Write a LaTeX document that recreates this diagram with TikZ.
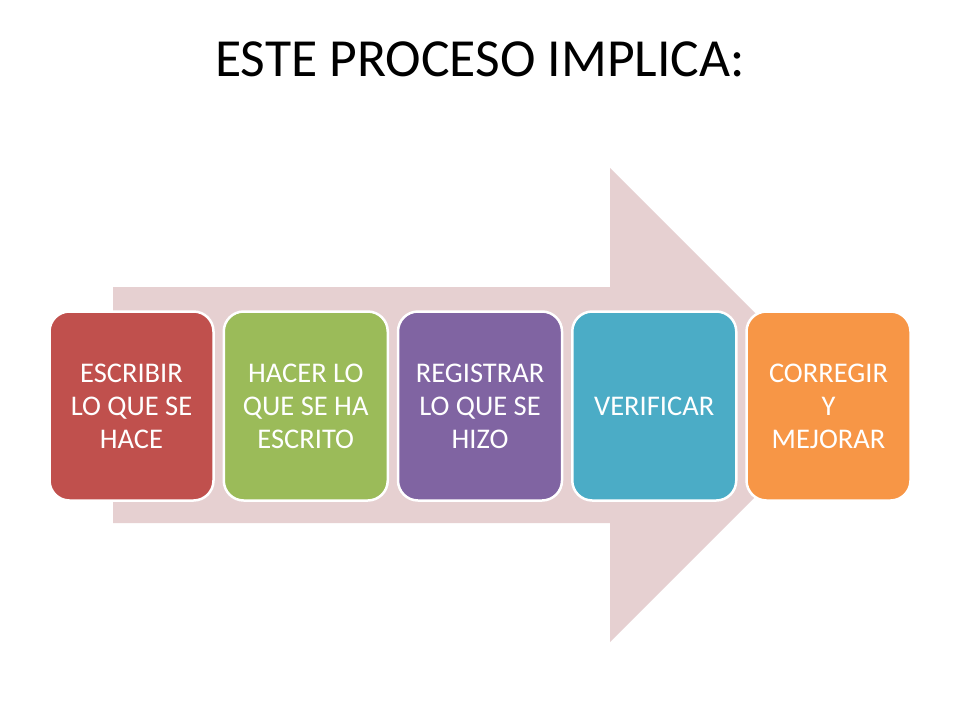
\documentclass[tikz,border=0pt]{standalone}
\usepackage{fontspec}
\setmainfont{Carlito}
\definecolor{arrowpink}{RGB}{230,208,209}
\definecolor{cred}{RGB}{192,80,77}
\definecolor{cgreen}{RGB}{155,187,89}
\definecolor{cpurple}{RGB}{128,100,162}
\definecolor{cteal}{RGB}{75,172,198}
\definecolor{corange}{RGB}{247,150,70}
\tikzset{
  stepbox/.style={rounded corners=20pt, draw=white, line width=2.5pt,
    minimum width=164pt, minimum height=189pt, inner sep=0pt,
    align=center, text=white, font=\fontsize{28.5}{33}\selectfont},
  titlestyle/.style={font=\fontsize{53.6}{60}\selectfont, text=black, inner sep=0pt}
}
\begin{document}
\begin{tikzpicture}[x=1pt,y=-1pt]
\useasboundingbox[fill=white] (0,0) rectangle (960,720);
\node[titlestyle] (title) at (480,59) {ESTE PROCESO IMPLICA:};
\fill[arrowpink] (113,287) -- (610,287) -- (610,168) -- (847,405) -- (610,642) -- (610,523) -- (113,523) -- cycle;
\node[stepbox, fill=cred] (s1) at (131.5,406) {ESCRIBIR\\LO QUE SE\\HACE};
\node[stepbox, fill=cgreen] (s2) at (305.75,406) {HACER LO\\QUE SE HA\\ESCRITO};
\node[stepbox, fill=cpurple] (s3) at (480,406) {REGISTRAR\\LO QUE SE\\HIZO};
\node[stepbox, fill=cteal] (s4) at (654.25,406) {VERIFICAR};
\node[stepbox, fill=corange] (s5) at (828.5,406) {CORREGIR\\Y\\MEJORAR};
\end{tikzpicture}
\end{document}
